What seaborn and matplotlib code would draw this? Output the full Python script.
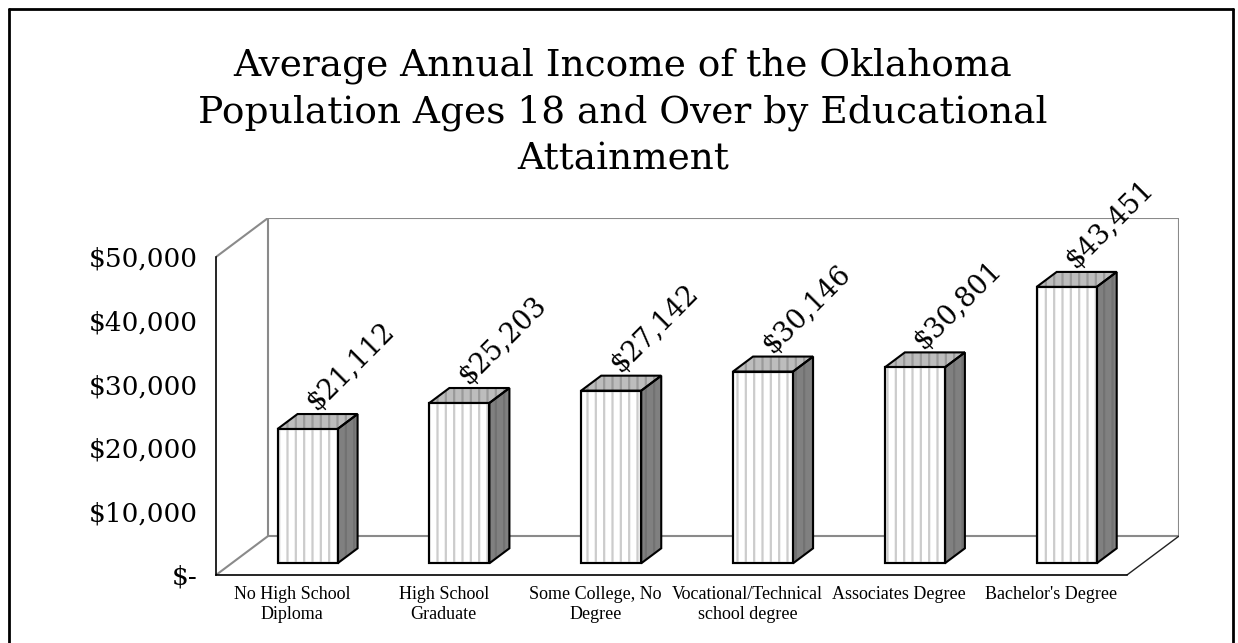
import matplotlib
matplotlib.use("Agg")
import matplotlib.pyplot as plt
import seaborn as sns
import numpy as np
import pandas as pd
from matplotlib.patches import Polygon, Rectangle
from matplotlib.lines import Line2D

# ---- data ----
categories = ["No High School\nDiploma", "High School\nGraduate", "Some College, No\nDegree",
              "Vocational/Technical\nschool degree", "Associates Degree", "Bachelor's Degree"]
incomes = [21112, 25203, 27142, 30146, 30801, 43451]
ytick_values = [0, 10000, 20000, 30000, 40000, 50000]
ytick_labels = ["$-", "$10,000", "$20,000", "$30,000", "$40,000", "$50,000"]
title_text = "Average Annual Income of the Oklahoma\nPopulation Ages 18 and Over by Educational\nAttainment"

sns.set_style("white")
plt.rcParams["font.family"] = ["DejaVu Serif"]
plt.rcParams["hatch.linewidth"] = 1.6
for k in ["text.color", "axes.labelcolor", "xtick.color", "ytick.color"]:
    plt.rcParams[k] = "black"

W, H = 1238, 643
fig = plt.figure(figsize=(W / 100, H / 100), dpi=100)

# 3-D depth offsets (in data units)
DX = 0.3428          # horizontal depth of the floor (category units)
DY = 6122.0          # vertical depth of the floor (value units)
D_FRONT = 0.30       # depth where the bar front face sits
D_BAR = 0.385        # depth of bar
BAR_W = 0.3955
YMAX = 50000

left_px, right_px, bot_px, top_px = 216, 1179, 575, 218
ax = fig.add_axes([left_px / W, (H - bot_px) / H, (right_px - left_px) / W, (bot_px - top_px) / H])

df = pd.DataFrame({"cat": categories, "income": incomes})
sns.barplot(data=df, x="cat", y="income", color="white", saturation=1, width=BAR_W,
            edgecolor="black", linewidth=1.5, ax=ax, zorder=5)

ax.set_xlim(-0.5, 5.5 + DX)
ax.set_ylim(0, YMAX + DY)

# walls (gray)
wall_c = "#8a8a8a"
bx = [-0.5 + DX, 5.5 + DX, 5.5 + DX, -0.5 + DX, -0.5 + DX]
by = [DY, DY, YMAX + DY, YMAX + DY, DY]
ax.add_line(Line2D(bx, by, color=wall_c, lw=1.5, zorder=1))
ax.add_line(Line2D([-0.5, -0.5 + DX], [0, DY], color=wall_c, lw=1.5, zorder=1))
ax.add_line(Line2D([-0.5, -0.5 + DX], [YMAX, YMAX + DY], color=wall_c, lw=1.5, zorder=1))
ax.add_line(Line2D([5.5, 5.5 + DX], [0, DY], color="#222222", lw=1.0, zorder=1))

# turn seaborn front faces into 3-D bars
for i, (p, v) in enumerate(zip(ax.patches[:len(incomes)], incomes)):
    x0 = p.get_x() + D_FRONT * DX
    y0 = D_FRONT * DY
    w = p.get_width()
    p.set_x(x0)
    p.set_y(y0)
    p.set_height(v)
    y1 = y0 + v
    ddx, ddy = D_BAR * DX, D_BAR * DY
    # stripes on front
    ax.add_patch(Rectangle((x0, y0), w, v, facecolor="none", edgecolor="#cccccc",
                           hatch="||", lw=0, zorder=5.5))
    ax.add_patch(Rectangle((x0, y0), w, v, facecolor="none", edgecolor="black", lw=1.5, zorder=6))
    top = [(x0, y1), (x0 + w, y1), (x0 + w + ddx, y1 + ddy), (x0 + ddx, y1 + ddy)]
    side = [(x0 + w, y0), (x0 + w + ddx, y0 + ddy), (x0 + w + ddx, y1 + ddy), (x0 + w, y1)]
    ax.add_patch(Polygon(top, closed=True, facecolor="#bdbdbd", edgecolor="none", zorder=4))
    ax.add_patch(Polygon(top, closed=True, facecolor="none", edgecolor="#9a9a9a", hatch="||", lw=0, zorder=4.2))
    ax.add_patch(Polygon(top, closed=True, facecolor="none", edgecolor="black", lw=1.5, zorder=4.5))
    ax.add_patch(Polygon(side, closed=True, facecolor="#808080", edgecolor="none", zorder=4))
    ax.add_patch(Polygon(side, closed=True, facecolor="none", edgecolor="#727272", hatch="||", lw=0, zorder=4.2))
    ax.add_patch(Polygon(side, closed=True, facecolor="none", edgecolor="black", lw=1.5, zorder=4.5))
    ax.text(x0 + w / 2 + 0.09, y1 + ddy - 250, f"${v:,.0f}", rotation=45, rotation_mode="anchor",
            ha="left", va="bottom", fontsize=19.5, color="black", zorder=7)

# spines / ticks
for s in ["top", "right"]:
    ax.spines[s].set_visible(False)
ax.spines["left"].set_bounds(0, YMAX)
ax.spines["bottom"].set_bounds(-0.5, 5.5)
for s in ["left", "bottom"]:
    ax.spines[s].set_color("black")
    ax.spines[s].set_linewidth(1.2)

ax.set_yticks(ytick_values)
ax.set_yticklabels(ytick_labels, fontsize=19)
ax.tick_params(axis="y", direction="out", length=5, width=1.2, pad=8, colors="black")
ax.set_xticks(range(len(categories)))
ax.set_xticklabels(categories, fontsize=13, family="Liberation Serif", linespacing=1.2)
ax.set_xticks(np.arange(-0.5, 6.0, 1.0), minor=True)
ax.tick_params(axis="x", which="major", length=0, pad=8, colors="black")
ax.tick_params(axis="x", which="minor", direction="out", length=5, width=1.2, colors="black")
ax.set_xlabel("")
ax.set_ylabel("")
ax.grid(False)
ax.patch.set_alpha(0)

fig.text(0.503, 1 - 47 / H, title_text, ha="center", va="top", fontsize=27, linespacing=1.38,
         color="black")

# figure border
bc = "black"
fig.add_artist(Line2D([9 / W, 9 / W], [0, 1 - 9 / H], color=bc, lw=2, transform=fig.transFigure))
fig.add_artist(Line2D([9 / W, 1233 / W], [1 - 9 / H, 1 - 9 / H], color=bc, lw=2, transform=fig.transFigure))
fig.add_artist(Line2D([1233 / W, 1233 / W], [0, 1 - 9 / H], color=bc, lw=2, transform=fig.transFigure))

fig.savefig("out.png", dpi=100)
